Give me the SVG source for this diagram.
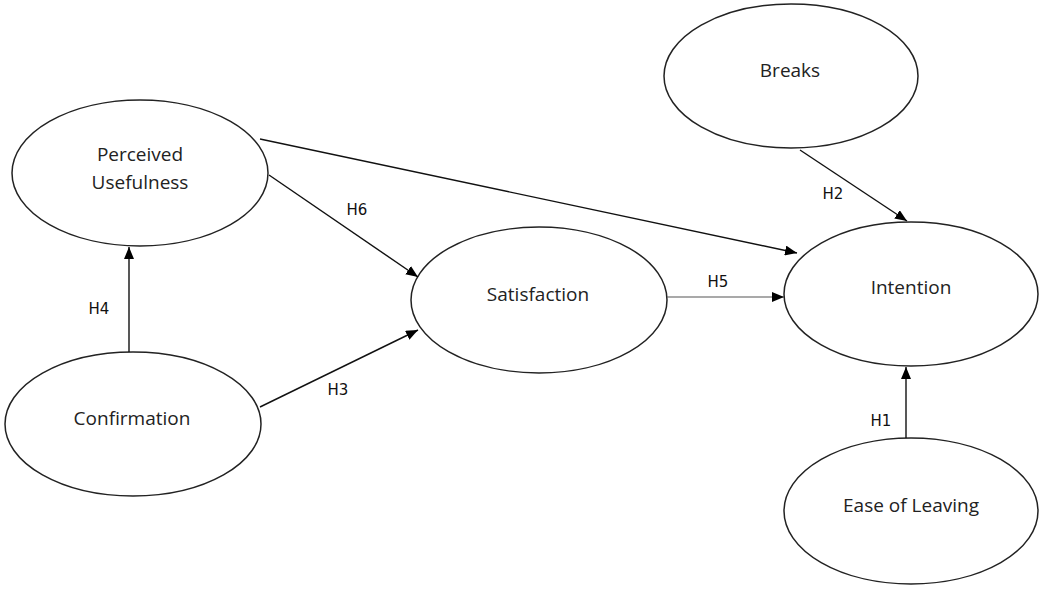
<svg xmlns="http://www.w3.org/2000/svg" width="1042" height="589" viewBox="0 0 1042 589">
  <style>
    .node ellipse { fill: #ffffff; stroke: #222222; stroke-width: 1.5; }
    .node text { font-family: "Open Sans", "Liberation Sans", sans-serif; font-size: 19px; fill: #222222; text-anchor: middle; }
    .edge { stroke: #111111; stroke-width: 1.4; fill: none; marker-end: url(#arrow); }
    .label { font-family: "DejaVu Sans", "Liberation Sans", sans-serif; font-size: 15px; fill: #111111; text-anchor: middle; }
  </style>
  <defs>
    <marker id="arrow" viewBox="0 0 12 10" refX="12" refY="5" markerWidth="12" markerHeight="10" markerUnits="userSpaceOnUse" orient="auto">
      <path d="M0,0 L12,5 L0,10 Z" fill="#000000"/>
    </marker>
  </defs>
  <rect width="1042" height="589" fill="#ffffff"/>

  <g id="node-perceived-usefulness" class="node">
    <ellipse cx="140" cy="173" rx="128" ry="73"/>
    <text x="140" y="161">Perceived</text>
    <text x="140" y="189">Usefulness</text>
  </g>

  <g id="node-confirmation" class="node">
    <ellipse cx="133" cy="424" rx="128" ry="72"/>
    <text x="132" y="425">Confirmation</text>
  </g>

  <g id="node-satisfaction" class="node">
    <ellipse cx="539" cy="300" rx="128" ry="73"/>
    <text x="538" y="301">Satisfaction</text>
  </g>

  <g id="node-breaks" class="node">
    <ellipse cx="791" cy="76" rx="127" ry="72"/>
    <text x="790" y="77">Breaks</text>
  </g>

  <g id="node-intention" class="node">
    <ellipse cx="911" cy="294" rx="127" ry="72"/>
    <text x="911" y="294">Intention</text>
  </g>

  <g id="node-ease-of-leaving" class="node">
    <ellipse cx="911" cy="511" rx="127" ry="73"/>
    <text x="911" y="512">Ease of Leaving</text>
  </g>

  <g id="connectors">
    <line class="edge" x1="129" y1="352" x2="129" y2="247"/>
    <line class="edge" x1="260" y1="139" x2="797" y2="253"/>
    <line class="edge" x1="269" y1="175" x2="418" y2="277"/>
    <line class="edge" x1="260" y1="407" x2="418" y2="330"/>
    <line class="edge" x1="667" y1="297" x2="784" y2="297" style="stroke: #555555; stroke-width: 1.1;"/>
    <line class="edge" x1="800" y1="150" x2="907" y2="221"/>
    <line class="edge" x1="906" y1="438" x2="906" y2="367"/>
  </g>

  <g id="labels">
    <text class="label" x="99" y="314">H4</text>
    <text class="label" x="357" y="215">H6</text>
    <text class="label" x="338" y="395">H3</text>
    <text class="label" x="718" y="287">H5</text>
    <text class="label" x="833" y="199">H2</text>
    <text class="label" x="881" y="426">H1</text>
  </g>
</svg>
